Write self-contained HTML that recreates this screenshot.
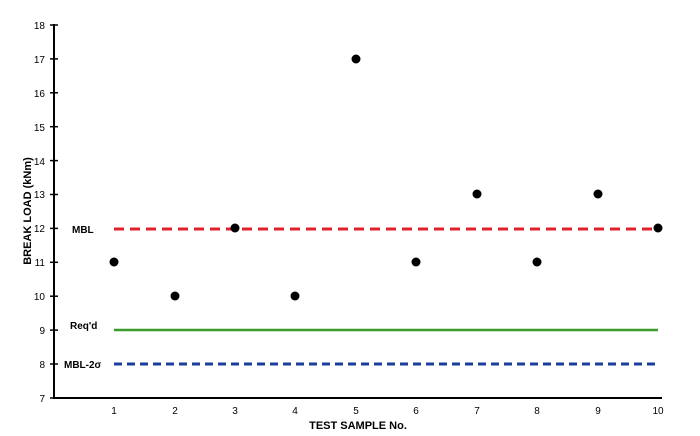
<!DOCTYPE html>
<html><head><style>body{margin:0;background:#fff}svg{display:block}text{font-family:"Liberation Sans",Arial,sans-serif}</style></head>
<body>
<svg width="700" height="436" viewBox="0 0 700 436" xmlns="http://www.w3.org/2000/svg">
<g stroke="#000" stroke-width="2">
<line x1="54" y1="24" x2="54" y2="398"/>
<line x1="53" y1="398" x2="662" y2="398"/>
<g stroke-width="1.5">
<line x1="50" y1="25" x2="58" y2="25"/><line x1="50" y1="58.9" x2="58" y2="58.9"/><line x1="50" y1="92.8" x2="58" y2="92.8"/><line x1="50" y1="126.7" x2="58" y2="126.7"/><line x1="50" y1="160.6" x2="58" y2="160.6"/><line x1="50" y1="194.5" x2="58" y2="194.5"/><line x1="50" y1="228.4" x2="58" y2="228.4"/><line x1="50" y1="262.3" x2="58" y2="262.3"/><line x1="50" y1="296.2" x2="58" y2="296.2"/><line x1="50" y1="330.1" x2="58" y2="330.1"/><line x1="50" y1="364" x2="58" y2="364"/><line x1="50" y1="398" x2="54" y2="398"/>
</g></g>
<g font-size="10" fill="#000" text-anchor="end">
<text x="45" y="29">18</text><text x="45" y="63">17</text><text x="45" y="97">16</text><text x="45" y="131">15</text><text x="45" y="165">14</text><text x="45" y="198">13</text><text x="45" y="232">12</text><text x="45" y="266">11</text><text x="45" y="300">10</text><text x="45" y="334">9</text><text x="45" y="368">8</text><text x="45" y="402">7</text>
</g>
<g font-size="10" fill="#000" text-anchor="middle">
<text x="114" y="414">1</text><text x="175" y="414">2</text><text x="235" y="414">3</text><text x="295" y="414">4</text><text x="356" y="414">5</text><text x="416" y="414">6</text><text x="477" y="414">7</text><text x="537" y="414">8</text><text x="598" y="414">9</text><text x="658" y="414">10</text>
</g>
<text x="358" y="429" font-size="11" font-weight="bold" text-anchor="middle">TEST SAMPLE No.</text>
<text transform="translate(31,211) rotate(-90)" font-size="11" font-weight="bold" text-anchor="middle">BREAK LOAD (kNm)</text>
<line x1="114" y1="229" x2="658" y2="229" stroke="#e0202a" stroke-width="3" stroke-dasharray="10,6"/>
<line x1="114" y1="330" x2="658" y2="330" stroke="#3a9a2a" stroke-width="2.5"/>
<line x1="114" y1="364" x2="658" y2="364" stroke="#1a3f9a" stroke-width="3" stroke-dasharray="8,5"/>
<g font-size="10" font-weight="bold">
<text x="72" y="233">MBL</text><text x="70" y="329">Req'd</text><text x="64" y="368">MBL-2σ</text>
</g>
<g fill="#000">
<circle cx="114" cy="262" r="4.5"/><circle cx="175" cy="296" r="4.5"/><circle cx="235" cy="228" r="4.5"/><circle cx="295" cy="296" r="4.5"/><circle cx="356" cy="59" r="4.5"/><circle cx="416" cy="262" r="4.5"/><circle cx="477" cy="194" r="4.5"/><circle cx="537" cy="262" r="4.5"/><circle cx="598" cy="194" r="4.5"/><circle cx="658" cy="228" r="4.5"/>
</g>
</svg>
</body></html>
